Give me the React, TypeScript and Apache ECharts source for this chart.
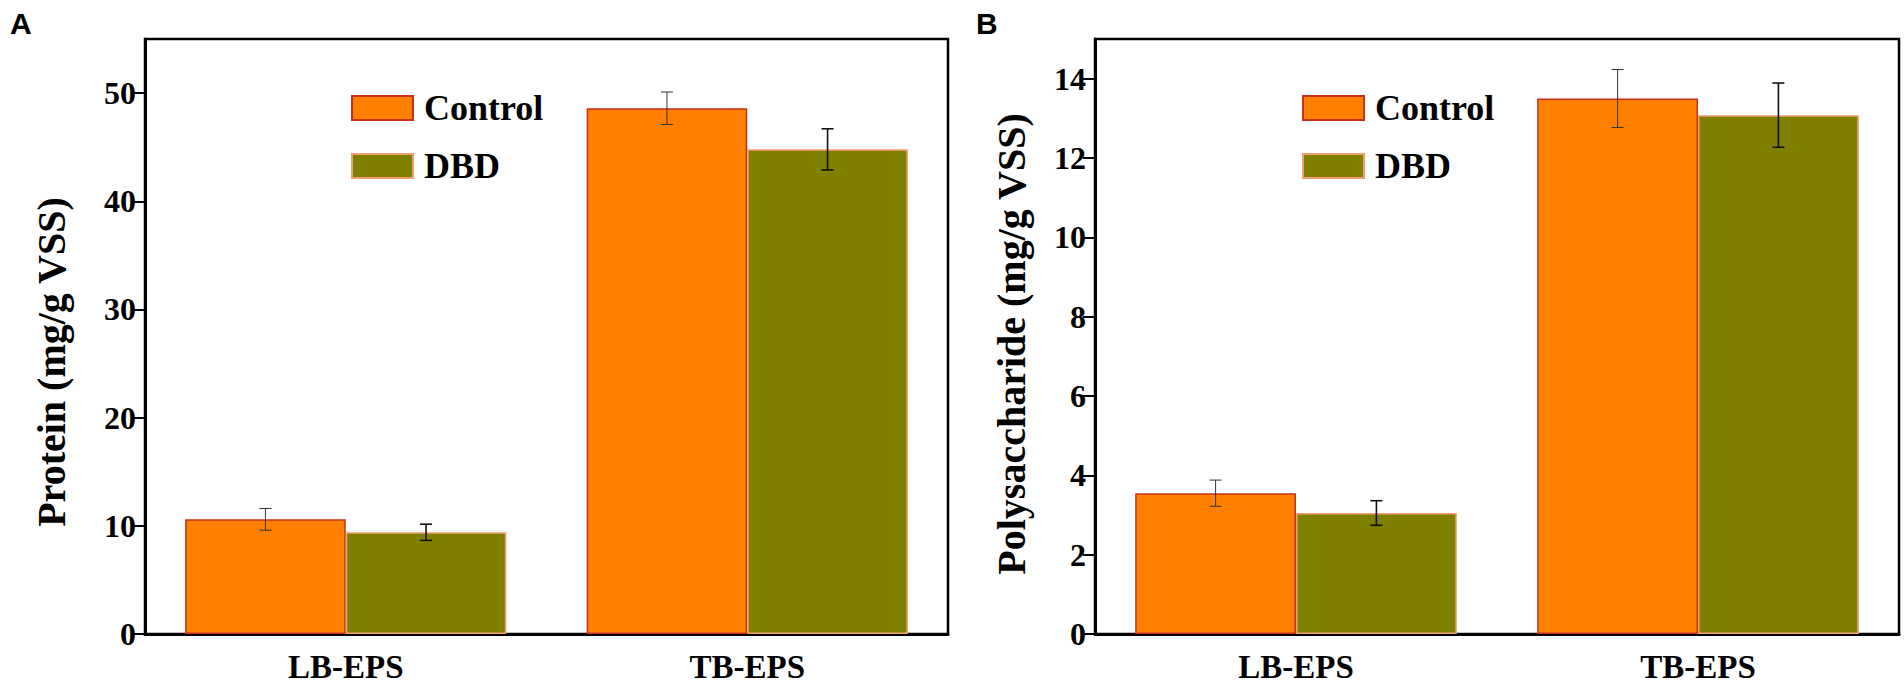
import React, { useEffect, useRef } from "react";
import * as echarts from "echarts";

const categories = ["LB-EPS", "TB-EPS"];
const seriesNames = ["Control", "DBD"];

const proteinControl = [10.6, 48.6];
const proteinControlErr = [1.0, 1.5];
const proteinDBD = [9.4, 44.8];
const proteinDBDErr = [0.75, 1.9];

const polyControl = [3.55, 13.5];
const polyControlErr = [0.33, 0.73];
const polyDBD = [3.05, 13.08];
const polyDBDErr = [0.31, 0.81];

const proteinTicks = [0, 10, 20, 30, 40, 50];
const polyTicks = [0, 2, 4, 6, 8, 10, 12, 14];

const SERIF = '"Liberation Serif", "Times New Roman", serif';
const SANS = '"Liberation Sans", Arial, sans-serif';
const ORANGE = "#ff8000";
const OLIVE = "#808000";

function errSeries(grid: number, vals: number[], errs: number[], sign: number, color: string, width: number) {
  return {
    type: "custom",
    xAxisIndex: grid,
    yAxisIndex: grid,
    z: 10,
    silent: true,
    encode: { x: 0, y: 1 },
    data: vals.map((v, i) => [i, v, errs[i]]),
    renderItem: (params: any, api: any) => {
      const idx = api.value(0);
      const v = api.value(1);
      const e = api.value(2);
      const band = api.size([1, 0])[0];
      const off = sign * band * 0.2;
      const hi = api.coord([idx, v + e]);
      const lo = api.coord([idx, v - e]);
      const x = hi[0] + off;
      const cap = 6;
      const style = { stroke: color, lineWidth: width };
      return {
        type: "group",
        children: [
          { type: "line", shape: { x1: x, y1: hi[1], x2: x, y2: lo[1] }, style },
          { type: "line", shape: { x1: x - cap, y1: hi[1], x2: x + cap, y2: hi[1] }, style },
          { type: "line", shape: { x1: x - cap, y1: lo[1], x2: x + cap, y2: lo[1] }, style },
        ],
      };
    },
  };
}

function barSeries(grid: number, name: string, vals: number[]) {
  const isControl = name === "Control";
  return {
    type: "bar",
    name,
    xAxisIndex: grid,
    yAxisIndex: grid,
    barGap: "0%",
    barCategoryGap: "20%",
    data: vals,
    itemStyle: {
      color: isControl ? ORANGE : OLIVE,
      borderColor: isControl ? "#c8301a" : "#f0a070",
      borderWidth: 1.5,
    },
  };
}

function xAxis(grid: number) {
  return {
    type: "category",
    gridIndex: grid,
    data: categories,
    axisLine: { show: true, lineStyle: { color: "#000", width: 3 } },
    axisTick: { show: false },
    axisLabel: {
      color: "#000",
      fontFamily: SERIF,
      fontWeight: "bold",
      fontSize: 33,
      margin: 16,
    },
    splitLine: { show: false },
  };
}

function yAxis(grid: number, max: number, ticks: number[]) {
  return {
    type: "value",
    gridIndex: grid,
    min: 0,
    max,
    axisLine: { show: true, lineStyle: { color: "#000", width: 3 } },
    axisTick: {
      show: true,
      length: 12,
      lineStyle: { color: "#000", width: 2 },
      customValues: ticks,
    },
    axisLabel: {
      color: "#000",
      fontFamily: SERIF,
      fontWeight: "bold",
      fontSize: 32,
      margin: 9,
      customValues: ticks,
    },
    splitLine: { show: false },
  };
}

function legend(left: number) {
  return {
    orient: "vertical",
    left,
    top: 90,
    data: seriesNames,
    icon: "rect",
    itemWidth: 61,
    itemHeight: 24,
    itemGap: 22,
    padding: 0,
    textStyle: {
      color: "#000",
      fontFamily: SERIF,
      fontWeight: "bold",
      fontSize: 36,
      padding: [0, 0, 0, 6],
    },
  };
}

export default function App() {
  const ref = useRef<HTMLDivElement>(null);
  useEffect(() => {
    if (!ref.current) return;
    const chart = echarts.init(ref.current, undefined, { renderer: "svg" });
    chart.setOption({
      animation: false,
      backgroundColor: "#fff",
      grid: [
        { left: 145, top: 39, width: 803, height: 598, show: true, borderColor: "#000", borderWidth: 2.5, backgroundColor: "transparent" },
        { left: 1095, top: 39, width: 804, height: 598, show: true, borderColor: "#000", borderWidth: 2.5, backgroundColor: "transparent" },
      ],
      xAxis: [xAxis(0), xAxis(1)],
      yAxis: [yAxis(0, 55, proteinTicks), yAxis(1, 15, polyTicks)],
      legend: [legend(351), legend(1302)],
      series: [
        barSeries(0, "Control", proteinControl),
        barSeries(0, "DBD", proteinDBD),
        barSeries(1, "Control", polyControl),
        barSeries(1, "DBD", polyDBD),
        errSeries(0, proteinControl, proteinControlErr, -1, "#333", 1),
        errSeries(0, proteinDBD, proteinDBDErr, 1, "#111", 1.6),
        errSeries(1, polyControl, polyControlErr, -1, "#333", 1),
        errSeries(1, polyDBD, polyDBDErr, 1, "#111", 1.6),
      ],
      graphic: [
        { type: "text", left: 10, top: 8, style: { text: "A", fontFamily: SANS, fontWeight: "bold", fontSize: 30, fill: "#000" } },
        { type: "text", left: 976, top: 8, style: { text: "B", fontFamily: SANS, fontWeight: "bold", fontSize: 30, fill: "#000" } },
        {
          type: "text",
          x: 51,
          y: 362,
          rotation: Math.PI / 2,
          style: { text: "Protein (mg/g VSS)", fontFamily: SERIF, fontWeight: "bold", fontSize: 40, fill: "#000", align: "center", verticalAlign: "middle" },
        },
        {
          type: "text",
          x: 1011,
          y: 344,
          rotation: Math.PI / 2,
          style: { text: "Polysaccharide (mg/g VSS)", fontFamily: SERIF, fontWeight: "bold", fontSize: 40, fill: "#000", align: "center", verticalAlign: "middle" },
        },
      ],
    });
    return () => chart.dispose();
  }, []);
  return (
    <div
      ref={ref}
      style={{ position: "fixed", left: 0, top: 0, width: 1904, height: 683, background: "#fff" }}
    />
  );
}
